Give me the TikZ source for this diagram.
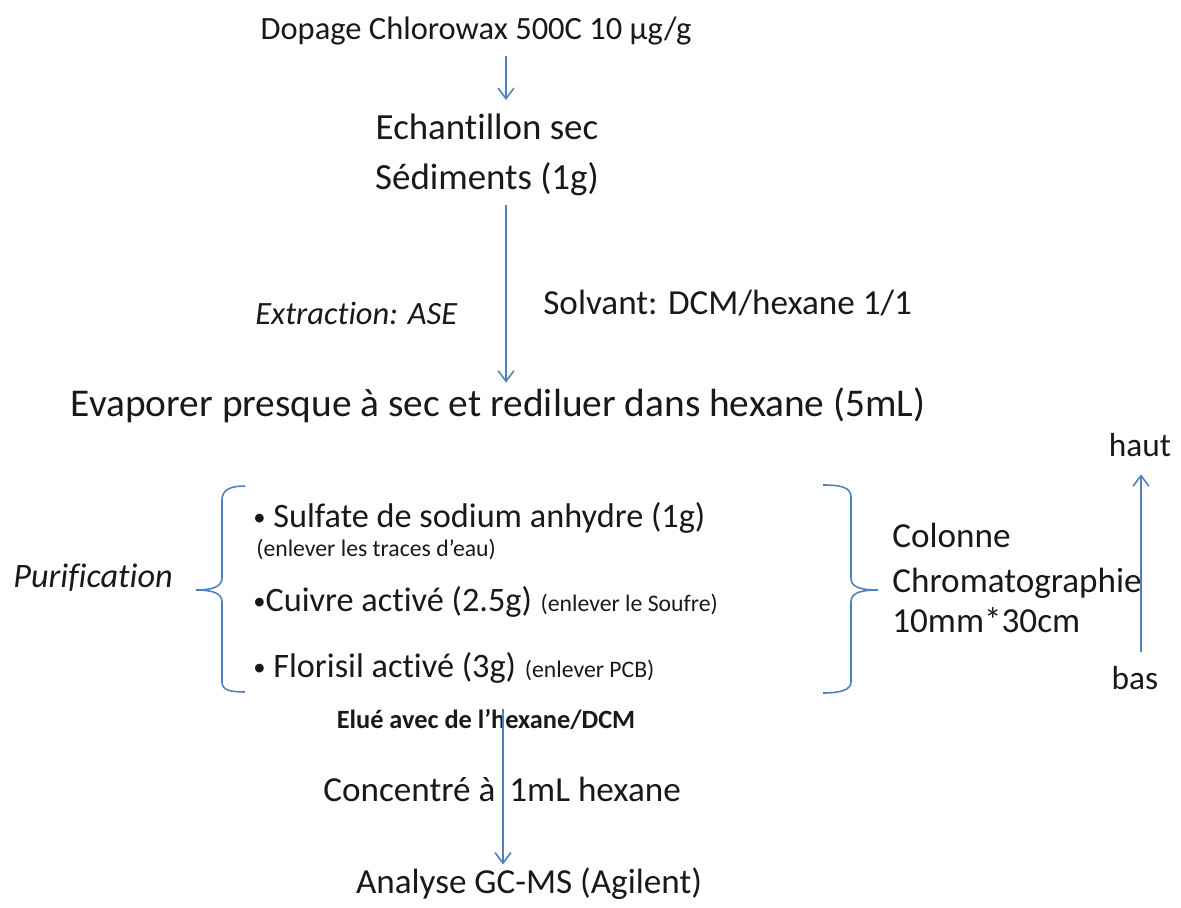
\documentclass[tikz,border=0pt]{standalone}
\usepackage{fontspec}
\setmainfont{Carlito}[Ligatures=NoCommon]
\usetikzlibrary{arrows.meta}
\definecolor{flowblue}{RGB}{79,129,189}
\definecolor{ink}{RGB}{25,25,25}
\newcommand{\fs}[1]{\fontsize{#1}{1.25\dimexpr #1pt\relax}\selectfont}
\newcommand{\puce}{\raisebox{1.6pt}{\fs{14}•}}
\tikzset{
	txt/.style={inner sep=0pt, text=ink, anchor=base},
	flow/.style={draw=flowblue, line width=0.9pt, -{Straight Barb[length=6pt,width=9pt]}},
	brace/.style={draw=flowblue, line width=0.9pt},
}

\begin{document}
\begin{tikzpicture}[x=0.02cm, y=-0.02cm]
		%%%%% START %%%%%
		\useasboundingbox (0, 0) rectangle (1181, 908);
		
		\coordinate (axe) at (506, 0);
		\coordinate (axe2) at (503, 0);
		\coordinate (axe3) at (1141, 0);
		
		\node[txt] (dopage) at (476, 40) {\fs{18.5}Dopage Chlorowax 500C 10 µg/g};
		\node[txt] (echant1) at (487, 140) {\fs{21}Echantillon sec};
		\node[txt] (echant2) at (487, 190) {\fs{21}Sédiments (1g)};
		\draw[flow, shorten <=6pt, shorten >=8pt] (dopage.south -| axe) -- (echant1.north -| axe);
		
		\node[txt, anchor=base west] (extr) at (255, 325) {\fs{18.5}\itshape Extraction: ASE};
		\node[txt, anchor=base west] (solv) at (543, 315) {\fs{20}Solvant: DCM/hexane 1/1};
		
		\node[txt] (evap) at (498, 417) {\fs{22.4}Evaporer presque à sec et rediluer dans hexane (5mL)};
		\draw[flow, shorten <=5pt, shorten >=3pt] (echant2.south -| axe) -- (evap.north -| axe);
		
		%% colonne
		\node[txt, anchor=base west] (purif) at (13, 588) {\fs{19.5}\itshape Purification};
		\node[txt, anchor=base west] (sulf) at (253, 528) {\fs{19.5}\puce\ Sulfate de sodium anhydre (1g)};
		\node[txt, anchor=base west] (sulfn) at (256, 557) {\fs{13.5}(enlever les traces d’eau)};
		\node[txt, anchor=base west] (cuiv) at (253, 612) {\fs{19.5}\puce Cuivre activé (2.5g)\hspace{5pt}{\fs{13.5}(enlever le Soufre)}};
		\node[txt, anchor=base west] (flor) at (253, 678) {\fs{19.5}\puce\ Florisil activé (3g)\hspace{5pt}{\fs{13.5}(enlever PCB)}};
		
		\draw[brace] (245, 486) .. controls (230, 486) and (222, 490) .. (222, 500)
			-- (222, 578) .. controls (222, 587) and (212, 590) .. (196, 590)
			.. controls (212, 590) and (222, 593) .. (222, 602)
			-- (222, 682) .. controls (222, 690) and (230, 692) .. (245, 692);
		\draw[brace] (823, 485) .. controls (840, 485) and (851, 487) .. (851, 497)
			-- (851, 578) .. controls (851, 587) and (860, 590) .. (878, 590)
			.. controls (860, 590) and (851, 593) .. (851, 602)
			-- (851, 682) .. controls (851, 690) and (840, 693) .. (823, 693);
		
		\node[txt, anchor=base west] (col1) at (892, 548) {\fs{20}Colonne};
		\node[txt, anchor=base west] (col2) at (892, 593) {\fs{20}Chromatographie};
		\node[txt, anchor=base west] (col3) at (892, 633) {\fs{20}10mm*30cm};
		
		\node[txt] (haut) at (1140, 457) {\fs{19}haut};
		\node[txt] (bas) at (1135, 690) {\fs{19}bas};
		\draw[flow, shorten <=8pt, shorten >=9.5pt] (bas.north -| axe3) -- (haut.south -| axe3);
		
		\node[txt] (elue) at (486, 729) {\fs{15}\bfseries Elué avec de l’hexane/DCM};
		\node[txt, anchor=base west] (conc) at (323, 802) {\fs{20}Concentré à\hspace{8pt}1mL hexane};
		\node[txt] (gcms) at (529, 894) {\fs{20}Analyse GC-MS (Agilent)};
		\draw[flow, shorten >=2pt] (elue.north -| axe2) -- (gcms.north -| axe2);
		
		%%%%% END %%%%%
	\end{tikzpicture}
\end{document}
